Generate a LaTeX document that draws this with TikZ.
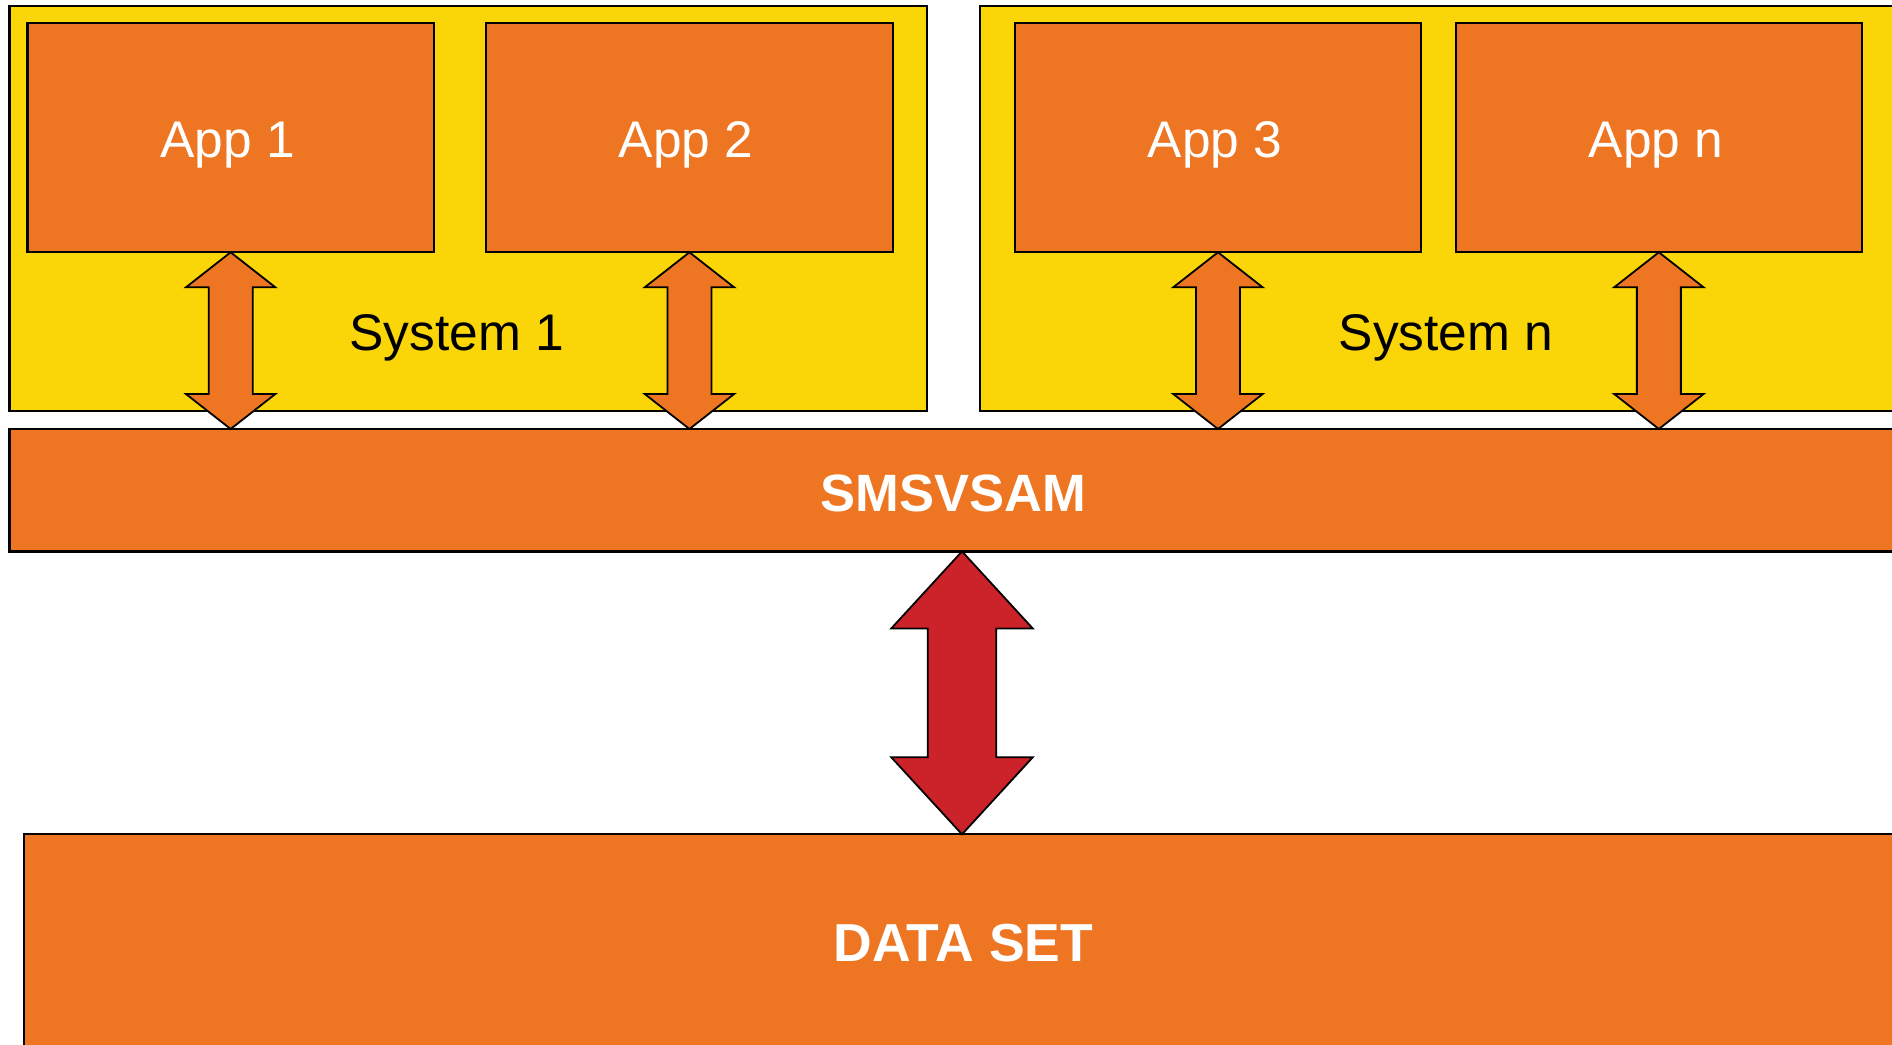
\documentclass[tikz,border=0pt]{standalone}
\usepackage{fontspec}
\setmainfont{Liberation Sans}
\usetikzlibrary{calc}
\definecolor{orng}{RGB}{238,118,35}
\definecolor{yel}{RGB}{250,213,8}
\definecolor{redarr}{RGB}{204,34,41}
\newcommand\mydblarrow[6]{%
  \draw[arrowshape, fill=#6] let \p1=#1, \p2=#2 in
    (\x1,\y1) -- ++(#3,-#5) -- ($(\x1,\y1)+(#4,-#5)$) -- ($(\x1,\y2)+(#4,#5)$)
    -- ($(\x1,\y2)+(#3,#5)$) -- (\x1,\y2) -- ($(\x1,\y2)+(-#3,#5)$)
    -- ($(\x1,\y2)+(-#4,#5)$) -- ($(\x1,\y1)+(-#4,-#5)$) -- ($(\x1,\y1)+(-#3,-#5)$) -- cycle;}
\begin{document}
\begin{tikzpicture}[x=1pt,y=-1pt,
  box/.style={draw=black, line width=2.2pt, outer sep=0pt, inner sep=0pt, anchor=north west},
  sysbox/.style={box, fill=yel},
  appbox/.style={box, fill=orng, minimum width=406.3pt, minimum height=229pt},
  bigbox/.style={box, fill=orng},
  whitetext/.style={text=white, font=\fontsize{51.5}{60}\selectfont, anchor=base, inner sep=0pt},
  boldtext/.style={text=white, font=\fontsize{52.5}{60}\selectfont\bfseries, anchor=base, inner sep=0pt},
  blacktext/.style={text=black, font=\fontsize{51.5}{60}\selectfont, anchor=base, inner sep=0pt},
  arrowshape/.style={draw=black, line width=1.8pt, line join=miter}]
\path[use as bounding box, clip] (0,0) rectangle (1892,1044);
\fill[white] (0,0) rectangle (1892,1044);
% systems
\node[sysbox, minimum width=917.2pt, minimum height=405.3pt] (sys1) at (9.5,5.7) {};
\node[sysbox, minimum width=960pt, minimum height=405.3pt] (sysn) at (979.8,5.7) {};
% apps
\node[appbox] (app1) at (27.5,23.3) {};
\node[appbox] (app2) at (486.3,23.3) {};
\node[appbox] (app3) at (1014.8,23.3) {};
\node[appbox] (appn) at (1455.7,23.3) {};
% bars
\node[bigbox, minimum width=1920pt, minimum height=122.4pt] (sms) at (9.5,429) {};
\node[bigbox, minimum width=1910pt, minimum height=270pt] (data) at (24,834.3) {};
% labels
\node[whitetext] (l1) at (227.5,157.3) {App 1};
\node[whitetext] (l2) at (686,157.3) {App 2};
\node[whitetext] (l3) at (1215,157.3) {App 3};
\node[whitetext] (l4) at (1656,157.3) {App n};
\node[blacktext] (s1) at (456.7,350) {System 1};
\node[blacktext] (sn) at (1446,350) {System n};
\node[boldtext] (smst) at (953.3,511) {SMSVSAM};
\node[boldtext, font=\fontsize{53.5}{60}\selectfont\bfseries] (datat) at (963.3,961) {DATA SET};
% arrows
\mydblarrow{(app1.south)}{(app1.south |- sms.north)}{44.7pt}{22pt}{35pt}{orng}
\mydblarrow{(app2.south)}{(app2.south |- sms.north)}{44.7pt}{22pt}{35pt}{orng}
\mydblarrow{(app3.south)}{(app3.south |- sms.north)}{44.7pt}{22pt}{35pt}{orng}
\mydblarrow{(appn.south)}{(appn.south |- sms.north)}{44.7pt}{22pt}{35pt}{orng}
\coordinate (redx) at (962,0);
\mydblarrow{(redx |- sms.south)}{(redx |- data.north)}{70.7pt}{34.2pt}{77pt}{redarr}
\end{tikzpicture}
\end{document}
